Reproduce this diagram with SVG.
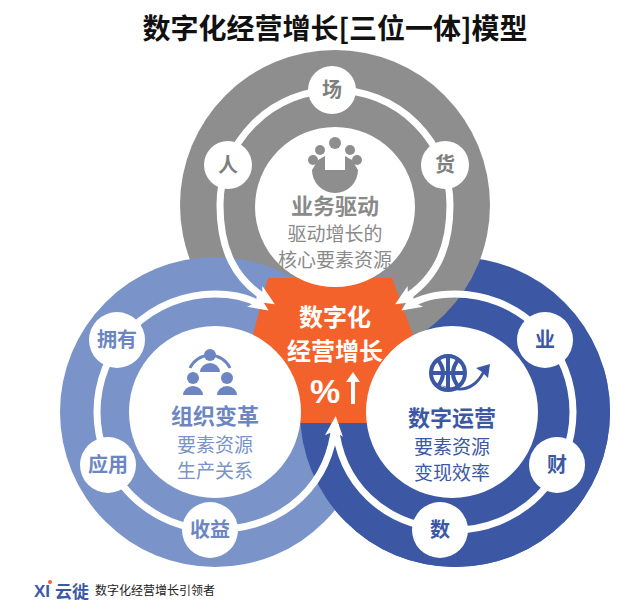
<svg xmlns="http://www.w3.org/2000/svg" width="618" height="610" viewBox="0 0 618 610">
<style>
text{font-family:"Noto Sans CJK SC","Liberation Sans",sans-serif;text-anchor:middle}
.lbl{font-size:20px;font-weight:bold}
.ttl{font-size:22px;font-weight:bold}
.sub{font-size:19px}
.trk{fill:none;stroke:#fff;stroke-width:7}
</style>
<defs>
<marker id="ah" markerUnits="userSpaceOnUse" markerWidth="22" markerHeight="22" refX="12" refY="11" orient="auto-start-reverse" viewBox="0 0 22 22"><path d="M0,2 L20,11 L0,20 L5,11Z" fill="#fff"/></marker>
<clipPath id="lower"><rect x="0" y="368" width="618" height="242"/></clipPath>
</defs>
<rect width="618" height="610" fill="#fff"/>
<text x="335" y="39" style="font-size:28px;font-weight:bold" fill="#111">数字化经营增长[三位一体]模型</text>
<g id="rings">
<circle cx="455" cy="412" r="155" fill="#3c58a4"/>
<circle cx="335" cy="205" r="155" fill="#8e8e8e"/>
<circle cx="215" cy="412" r="155" fill="#7a93c9"/>
<circle cx="455" cy="412" r="155" fill="#3c58a4" clip-path="url(#lower)"/>
<polygon points="268,278 392,278 414,338 372,423 300,423 252,338" fill="#f4622c"/>
</g>
<g id="connectors">
<path class="trk" d="M268,300 C235,280 220,250 220,205 A115 115 0 0 1 450,205 C450,250 435,280 402,300" marker-start="url(#ah)" marker-end="url(#ah)"/>
<path class="trk" d="M335,424 C330,480 290,528 215,530 A118 118 0 0 1 215,294 C235,294 250,298 262,306" marker-start="url(#ah)" marker-end="url(#ah)"/>
<path class="trk" d="M335,424 C340,480 380,528 455,530 A118 118 0 0 0 455,294 C435,294 420,298 408,306" marker-end="url(#ah)"/>
</g>
<g id="node-business">
<circle cx="335" cy="207" r="80" fill="#fff"/>
<g fill="#8e8e8e">
<circle cx="335" cy="143" r="6"/><circle cx="320" cy="150" r="5"/><circle cx="350" cy="150" r="5"/><circle cx="313" cy="160" r="5"/><circle cx="357" cy="160" r="5"/>
<path d="M312,170 A23 23 0 0 0 358,170 L352,160 L345,156 L345,170 L325,170 L325,156 L318,160Z"/>
</g>
<text class="ttl" x="335" y="214" fill="#8a8a8a">业务驱动</text>
<text class="sub" x="335" y="241" fill="#8a8a8a">驱动增长的</text>
<text class="sub" x="335" y="267" fill="#8a8a8a">核心要素资源</text>
</g>
<g id="node-org">
<circle cx="215" cy="412" r="86" fill="#fff"/>
<g fill="#6d86c2">
<circle cx="210" cy="355" r="6"/><path d="M200,372 A10 9 0 0 1 220,372Z"/>
<circle cx="193" cy="378" r="6"/><path d="M183,395 A10 9 0 0 1 203,395Z"/>
<circle cx="227" cy="378" r="6"/><path d="M217,395 A10 9 0 0 1 237,395Z"/>
<path d="M190,368 A22 22 0 0 1 230,368" fill="none" stroke="#6d86c2" stroke-width="3"/>
</g>
<text class="ttl" x="215" y="424" fill="#6d86c2">组织变革</text>
<text class="sub" x="215" y="452" fill="#7a93c9">要素资源</text>
<text class="sub" x="215" y="478" fill="#7a93c9">生产关系</text>
</g>
<g id="node-ops">
<circle cx="452" cy="412" r="86" fill="#fff"/>
<g fill="none" stroke="#3c58a4" stroke-width="4">
<circle cx="448" cy="373" r="17"/><path d="M431,373 H465 M448,356 V390 M438,360 Q448,373 438,386 M458,360 Q448,373 458,386"/>
</g>
<path d="M440,385 Q470,395 482,372 L476,368 L490,364 L488,378 L484,374 Q470,400 440,385Z" fill="#3c58a4"/>
<text class="ttl" x="452" y="426" fill="#3c58a4">数字运营</text>
<text class="sub" x="452" y="454" fill="#3c58a4">要素资源</text>
<text class="sub" x="452" y="480" fill="#3c58a4">变现效率</text>
</g>
<g id="node-center">
<text x="335" y="326" style="font-size:24px;font-weight:bold" fill="#fff">数字化</text>
<text x="335" y="360" style="font-size:24px;font-weight:bold" fill="#fff">经营增长</text>
<text x="325" y="403" style="font-size:34px;font-weight:bold;font-family:'Liberation Sans',sans-serif" fill="#fff">%</text>
<path d="M353,372 L360,382 L355,382 L355,404 L351,404 L351,382 L346,382Z" fill="#fff"/>
</g>
<g id="labels">
<g id="n-ren"><circle cx="228" cy="165" r="24" fill="#fff"/><text class="lbl" x="228" y="172" fill="#7f7f7f">人</text></g>
<g id="n-chang"><circle cx="332" cy="90" r="24" fill="#fff"/><text class="lbl" x="332" y="97" fill="#7f7f7f">场</text></g>
<g id="n-huo"><circle cx="445" cy="165" r="24" fill="#fff"/><text class="lbl" x="445" y="172" fill="#7f7f7f">货</text></g>
<g id="n-yongyou"><circle cx="117" cy="340" r="28" fill="#fff"/><text class="lbl" x="117" y="347" fill="#6d86c2">拥有</text></g>
<g id="n-yingyong"><circle cx="108" cy="465" r="28" fill="#fff"/><text class="lbl" x="108" y="472" fill="#6d86c2">应用</text></g>
<g id="n-shouyi"><circle cx="210" cy="530" r="28" fill="#fff"/><text class="lbl" x="210" y="537" fill="#6d86c2">收益</text></g>
<g id="n-ye"><circle cx="545" cy="340" r="28" fill="#fff"/><text class="lbl" x="545" y="347" fill="#3c58a4">业</text></g>
<g id="n-cai"><circle cx="557" cy="465" r="28" fill="#fff"/><text class="lbl" x="557" y="472" fill="#3c58a4">财</text></g>
<g id="n-shu"><circle cx="440" cy="530" r="28" fill="#fff"/><text class="lbl" x="440" y="537" fill="#3c58a4">数</text></g>
</g>
<g id="footer">
<text x="42" y="597" style="font-size:17px;font-weight:bold;font-family:'Liberation Sans',sans-serif" fill="#3c58a4">XI</text>
<circle cx="50" cy="582" r="2" fill="#f4622c"/>
<text x="72" y="598" style="font-size:17px;font-weight:bold" fill="#3c58a4">云徙</text>
<text x="95" y="595" style="font-size:12px;text-anchor:start" fill="#222">数字化经营增长引领者</text>
</g>
</svg>
